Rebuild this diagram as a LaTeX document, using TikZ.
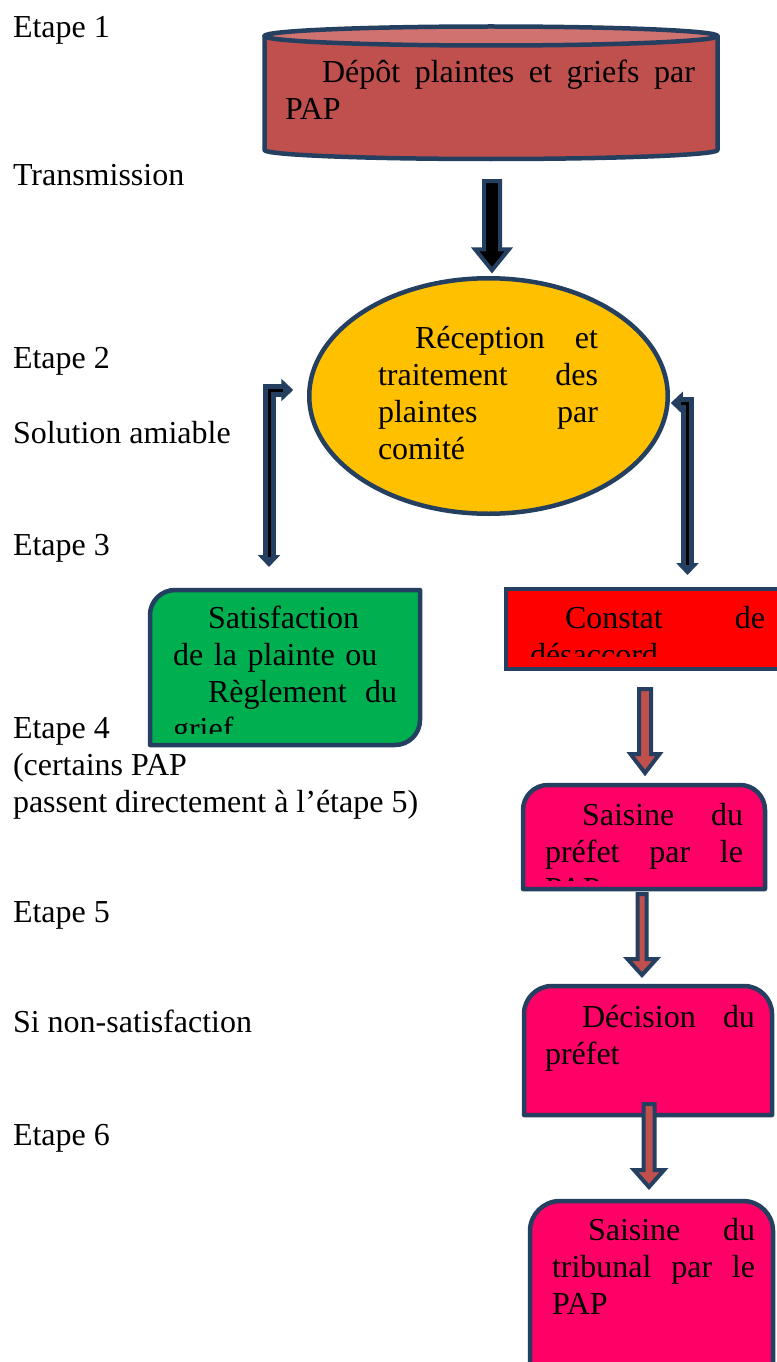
\documentclass[tikz,border=0pt]{standalone}
\usepackage{fontspec}
\setmainfont{Liberation Serif}
\usetikzlibrary{arrows.meta,calc,shapes.geometric}
\definecolor{navy}{HTML}{243F60}
\definecolor{cylred}{HTML}{C0504D}
\definecolor{cyltop}{HTML}{CF7270}
\definecolor{ellgold}{HTML}{FFC000}
\definecolor{grn}{HTML}{00B050}
\definecolor{redbox}{HTML}{FF0000}
\definecolor{pinkbox}{HTML}{FF0066}
\newcommand\gap{\hskip 0pt plus 1filll\relax}
\newcommand\BlkDown[6]{%
  \draw[#1] let \p1=(#2), \p2=(#3) in
    (\x1-#4,\y1) -- (\x1+#4,\y1) -- (\x1+#4,\y2+#6) -- (\x1+#5,\y2+#6) -- (\x1,\y2)
    -- (\x1-#5,\y2+#6) -- (\x1-#4,\y2+#6) -- cycle;}
\begin{document}
\begin{tikzpicture}[x=1pt, y=-1pt,
  txt/.style={font=\fontsize{32}{37}\selectfont, inner sep=0pt, outer sep=0pt, anchor=base west, align=left},
  boxframe/.style={rectangle, inner sep=0pt, outer sep=0pt},
  boxline/.style={draw=navy, line width=4.5pt, line join=round},
  blk/.style={draw=navy, line width=4pt, line join=miter},
  elbowout/.style={draw=navy, line width=13pt, line join=miter,
    arrows={Triangle[width=22pt,length=12pt]-Triangle[width=22pt,length=12pt]}},
  elbowin/.style={draw=black, line width=3pt, shorten <=10pt, shorten >=10pt}
]
\fill[white] (0,0) rectangle (776,1362);
\useasboundingbox (0,0) rectangle (776,1362);

% ---- left labels
\node[txt] (e1) at (13,38) {Etape 1};
\node[txt] (tr) at (13,185) {Transmission};
\node[txt] (e2) at (13,368) {Etape 2};
\node[txt] (sa) at (13,443) {Solution amiable};
\node[txt] (e3) at (13,555) {Etape 3};
\node[txt, text width=450pt, align=flush left] (e4) at (13,738) {Etape 4\\(certains PAP\\passent directement à l’étape 5)};
\node[txt] (e5) at (13,922) {Etape 5};
\node[txt] (sn) at (13,1032) {Si non-satisfaction};
\node[txt] (e6) at (13,1145) {Etape 6};

% ---- frames
\node[boxframe, minimum width=453pt, minimum height=114pt] (cyl) at (491,93) {};
\node[ellipse, draw=navy, line width=4.5pt, fill=ellgold, inner sep=0pt, outer sep=0pt,
      minimum width=358.5pt, minimum height=235.5pt] (ell) at (488.5,396) {};
\node[boxframe, minimum width=270pt, minimum height=155pt] (green) at (285,667.5) {};
\node[boxframe, minimum width=273pt, minimum height=80pt] (red) at (642.5,629) {};
\node[boxframe, minimum width=242pt, minimum height=104pt] (prefet) at (644,837) {};
\node[boxframe, minimum width=248pt, minimum height=129pt] (decision) at (648,1050.5) {};
\node[boxframe, minimum width=243pt, minimum height=189pt] (tribunal) at (651.5,1295.5) {};

% ---- cylinder
\draw[boxline, fill=cylred] (cyl.north west) -- (cyl.south west)
   arc[start angle=180, end angle=360, x radius=226.5pt, y radius=9pt] -- (cyl.north east) -- cycle;
\draw[boxline, fill=cyltop] (cyl.north) ellipse[x radius=226.5pt, y radius=9.5pt];
\node[txt, text width=410pt] (cyltext) at (285,83) {\hspace*{37pt}Dépôt\gap plaintes\gap et\gap griefs\gap par\\PAP};

% ---- ellipse text
\node[txt, text width=220pt] (elltext) at (378,348) {\hspace*{37pt}Réception\gap et\\traitement\gap des\\plaintes\gap par\\comité};

% ---- green box
\draw[boxline, fill=grn] (green.south west) -- ([yshift=-25pt]green.north west)
   arc[start angle=180, end angle=90, radius=25pt] -- (green.north east)
   -- ([yshift=25pt]green.south east) arc[start angle=0, end angle=-90, radius=25pt] -- cycle;
\begin{scope}
  \clip ([xshift=3pt,yshift=-3pt]green.north west) rectangle ([xshift=-3pt,yshift=12pt]green.south east);
  \node[txt, text width=224pt] (greentext) at (173,628) {\hspace*{35pt}Satisfaction\\de la plainte ou\\\hspace*{35pt}Règlement\gap du\\grief};
\end{scope}

% ---- red box
\draw[boxline, fill=redbox, line join=miter] (red.south west) rectangle (red.north east);
\begin{scope}
  \clip ([xshift=3pt,yshift=-3pt]red.north west) rectangle ([xshift=-3pt,yshift=13pt]red.south east);
  \node[txt, text width=235pt] (redtext) at (530,628) {\hspace*{35pt}Constat\gap de\\désaccord};
\end{scope}

% ---- prefet box
\draw[boxline, fill=pinkbox] (prefet.south west) -- ([yshift=-25pt]prefet.north west)
   arc[start angle=180, end angle=90, radius=25pt] -- ([xshift=-25pt]prefet.north east)
   arc[start angle=90, end angle=0, radius=25pt] -- (prefet.south east) -- cycle;
\begin{scope}
  \clip ([xshift=3pt,yshift=-3pt]prefet.north west) rectangle ([xshift=-3pt,yshift=9pt]prefet.south east);
  \node[txt, text width=198pt] (prefettext) at (545,825) {\hspace*{37pt}Saisine\gap du\\préfet\gap par\gap le\\PAP};
\end{scope}

% ---- decision box
\draw[boxline, fill=pinkbox] (decision.south west) -- ([yshift=-28pt]decision.north west)
   arc[start angle=180, end angle=90, radius=28pt] -- ([xshift=-28pt]decision.north east)
   arc[start angle=90, end angle=0, radius=28pt] -- (decision.south east) -- cycle;
\node[txt, text width=210pt] (dectext) at (545,1027) {\hspace*{37pt}Décision\gap du\\préfet};

% ---- tribunal box
\draw[boxline, fill=pinkbox] (tribunal.south west) -- ([yshift=-30pt]tribunal.north west)
   arc[start angle=180, end angle=90, radius=30pt] -- ([xshift=-30pt]tribunal.north east)
   arc[start angle=90, end angle=0, radius=30pt] -- (tribunal.south east) -- cycle;
\node[txt, text width=203pt] (tribtext) at (552,1240) {\hspace*{36pt}Saisine\gap du\\tribunal\gap par\gap le\\PAP};

% ---- block arrows
\BlkDown{blk, fill=black}{[xshift=1pt,yshift=-31pt]cyl.south}{[yshift=8pt]ell.north}{8pt}{17pt}{21pt}
\BlkDown{blk, fill=cylred}{[xshift=2.5pt,yshift=-20pt]red.south}{[yshift=12pt]prefet.north}{6pt}{14.5pt}{19pt}
\BlkDown{blk, fill=cylred}{[xshift=-2pt,yshift=-5pt]prefet.south}{[yshift=11pt]decision.north}{4.5pt}{14.5pt}{16pt}
\BlkDown{blk, fill=cylred}{[xshift=1pt,yshift=11pt]decision.south}{[yshift=14pt]tribunal.north}{5.5pt}{15pt}{17pt}

% ---- elbow connectors
\draw[elbowout] ([xshift=-16pt,yshift=6pt]ell.west) -| ([xshift=-16pt,yshift=23pt]green.north);
\draw[elbowin]  ([xshift=-16pt,yshift=6pt]ell.west) -| ([xshift=-16pt,yshift=23pt]green.north);
\draw[elbowout] ([xshift=3pt,yshift=-7pt]ell.east) -| ([xshift=45pt,yshift=14pt]red.north);
\draw[elbowin]  ([xshift=3pt,yshift=-7pt]ell.east) -| ([xshift=45pt,yshift=14pt]red.north);
\end{tikzpicture}
\end{document}
